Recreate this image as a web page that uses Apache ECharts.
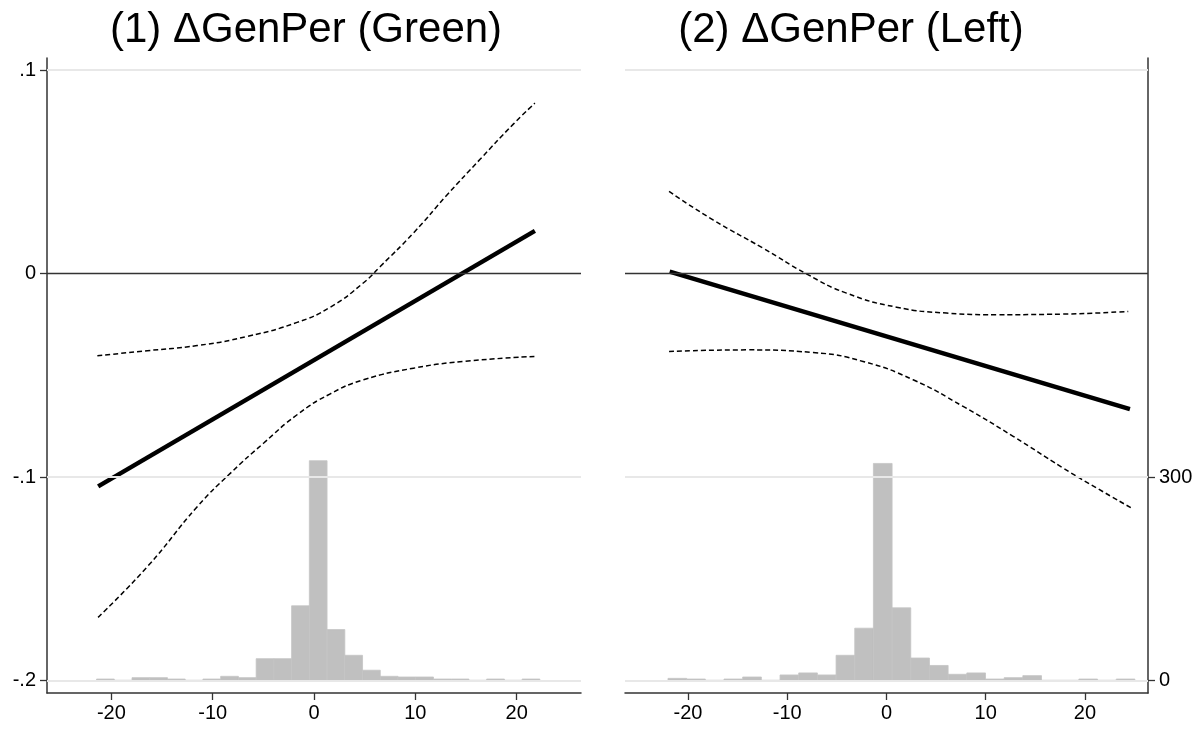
<!DOCTYPE html>
<html><head><meta charset="utf-8">
<script src="https://cdn.jsdelivr.net/npm/echarts@6/dist/echarts.min.js"></script>
<style>html,body{margin:0;padding:0;background:#fff}#c{width:1200px;height:729px}</style>
</head><body><div id="c"></div>
<script>
// ---------- data ----------
const titles = ['(1) \u0394GenPer (Green)', '(2) \u0394GenPer (Left)'];
const xTicks = [-20, -10, 0, 10, 20];
const yTicks = [-0.2, -0.1, 0, 0.1];
const freqTicks = [0, 300];

// Panel 1: fitted marginal effect and 95% CI
const p1Fit = [[-21.3, -0.1046], [21.8, 0.0210]];
const p1Upper = [[-21.38,-0.0404],[-16.45,-0.0379],[-11.53,-0.0354],[-6.60,-0.0309],[-1.67,-0.0240],[1.61,-0.0165],[4.89,-0.0045],[6.54,0.0035],[9.82,0.0200],[13.1,0.0385],[16.39,0.0562],[19.67,0.0735],[21.8,0.0838]];
const p1Lower = [[-21.31,-0.1690],[-16.43,-0.1440],[-11.5,-0.1145],[-8.24,-0.0981],[-4.96,-0.0833],[-1.67,-0.0694],[1.61,-0.0591],[4.89,-0.0522],[9.82,-0.0465],[14.75,-0.0432],[21.8,-0.0407]];
// Panel 1 histogram
const p1BinStart = -21.46;
const p1BinWidth = 1.75;
const p1Freq = [2,0,4,4,2,0,2,6,4,32,32,110,324,75,37,15,6,5,5,2,2,0,2,0,2];

// Panel 2
const p2Fit = [[-21.85, 0.0010], [24.53, -0.0666]];
const p2Upper = [[-21.91,0.0404],[-17.48,0.0264],[-12.44,0.0125],[-8.07,-0.0001],[-4.03,-0.0096],[1.01,-0.0165],[6.05,-0.0194],[11.09,-0.0202],[17.8,-0.0199],[24.36,-0.0186]];
const p2Lower = [[-21.91,-0.0383],[-14.11,-0.0375],[-7.4,-0.0388],[-2.36,-0.0432],[2.68,-0.0522],[7.72,-0.0653],[12.76,-0.0800],[17.8,-0.0956],[21.17,-0.1054],[24.7,-0.1153]];
const p2BinStart = -22.02;
const p2BinWidth = 1.882;
const p2Freq = [3,2,0,2,5,0,8,11,8,37,77,320,107,33,22,9,11,2,4,7,0,0,2,0,2];

// ---------- layout ----------
const Y_MIN = -0.2062, Y_MAX = 0.1060;
const FREQ_PER_Y = 3000; // 300 counts span the same height as 0.1
const F_MIN = (Y_MIN + 0.2) * FREQ_PER_Y, F_MAX = (Y_MAX + 0.2) * FREQ_PER_Y;
const X_MIN = -26.35, X_MAX = 26.35;
const FONT = '"Liberation Sans", Arial, Helvetica, sans-serif';

function bins(start, width, freq) {
  return freq.map((f, k) => [start + k * width, start + (k + 1) * width, f]);
}
function fmtY(v) {
  const r = Math.round(v * 10) / 10;
  if (r === 0) return '0';
  return (r < 0 ? '-' : '') + String(Math.abs(r)).replace(/^0/, '');
}
function histItem(params, api) {
  const p0 = api.coord([api.value(0), 0]);
  const p1 = api.coord([api.value(1), api.value(2)]);
  return { type: 'rect',
    shape: { x: p0[0], y: p1[1], width: p1[0] - p0[0], height: p0[1] - p1[1] },
    style: { fill: '#c0c0c0', stroke: '#c4c4c4', lineWidth: 0.8 } };
}
const axisLine = { show: true, onZero: false, lineStyle: { color: '#333', width: 1.5 } };
const labelStyle = { color: '#000', fontSize: 20, fontFamily: FONT };

function xAxis(gi) {
  return { type: 'value', gridIndex: gi, min: X_MIN, max: X_MAX,
    axisLine: axisLine, splitLine: { show: false },
    axisTick: { show: true, customValues: xTicks, length: 7, lineStyle: { color: '#333', width: 1.3 } },
    axisLabel: Object.assign({ customValues: xTicks, margin: 10 }, labelStyle) };
}
function gridLines() {
  const g = { lineStyle: { color: '#e8e8e8', width: 2, type: 'solid' } };
  return { silent: true, symbol: 'none', label: { show: false }, animation: false,
    data: [
      Object.assign({ yAxis: -0.2 }, g), Object.assign({ yAxis: -0.1 }, g), Object.assign({ yAxis: 0.1 }, g),
      { yAxis: 0, lineStyle: { color: '#333', width: 1.3, type: 'solid' } }
    ] };
}
function ciLine(gi, yIdx, data) {
  return { type: 'line', xAxisIndex: gi, yAxisIndex: yIdx, data: data, smooth: 0.5,
    symbol: 'none', z: 3, lineStyle: { color: '#000', width: 1.5, type: [5, 3] } };
}
function panelSeries(gi, yIdx, fIdx, fit, up, lo, bStart, bWidth, freq) {
  return [
    { type: 'line', xAxisIndex: gi, yAxisIndex: yIdx, data: [], z: 1, markLine: gridLines() },
    { type: 'custom', xAxisIndex: gi, yAxisIndex: fIdx, data: bins(bStart, bWidth, freq),
      encode: { x: [0, 1], y: 2 }, renderItem: histItem, z: 2, silent: true },
    ciLine(gi, yIdx, up),
    ciLine(gi, yIdx, lo),
    { type: 'line', xAxisIndex: gi, yAxisIndex: yIdx, data: fit, symbol: 'none', z: 4,
      lineStyle: { color: '#000', width: 4.5 } }
  ];
}

const chart = echarts.init(document.getElementById('c'), null, { renderer: 'canvas' });
chart.setOption({
  animation: false,
  backgroundColor: '#fff',
  graphic: [
    { type: 'text', x: 306, y: 30, style: { text: titles[0], font: '42px ' + FONT, fill: '#000', align: 'center', verticalAlign: 'middle' } },
    { type: 'text', x: 851, y: 30, style: { text: titles[1], font: '42px ' + FONT, fill: '#000', align: 'center', verticalAlign: 'middle' } }
  ],
  grid: [
    { left: 47, top: 58, width: 534, height: 635 },
    { left: 625, top: 58, width: 523, height: 635 }
  ],
  xAxis: [xAxis(0), xAxis(1)],
  yAxis: [
    { type: 'value', gridIndex: 0, position: 'left', min: Y_MIN, max: Y_MAX, axisLine: axisLine, splitLine: { show: false },
      axisTick: { show: true, customValues: yTicks, length: 7, lineStyle: { color: '#333', width: 1.3 } },
      axisLabel: Object.assign({ customValues: yTicks, formatter: fmtY, margin: 11 }, labelStyle) },
    { type: 'value', gridIndex: 0, position: 'right', min: F_MIN, max: F_MAX, show: false, splitLine: { show: false } },
    { type: 'value', gridIndex: 1, position: 'left', min: Y_MIN, max: Y_MAX, show: false, splitLine: { show: false } },
    { type: 'value', gridIndex: 1, position: 'right', min: F_MIN, max: F_MAX, axisLine: axisLine, splitLine: { show: false },
      axisTick: { show: true, customValues: freqTicks, length: 7, lineStyle: { color: '#333', width: 1.3 } },
      axisLabel: Object.assign({ customValues: freqTicks, margin: 11 }, labelStyle) }
  ],
  series: [].concat(
    panelSeries(0, 0, 1, p1Fit, p1Upper, p1Lower, p1BinStart, p1BinWidth, p1Freq),
    panelSeries(1, 2, 3, p2Fit, p2Upper, p2Lower, p2BinStart, p2BinWidth, p2Freq)
  )
});
</script></body></html>
